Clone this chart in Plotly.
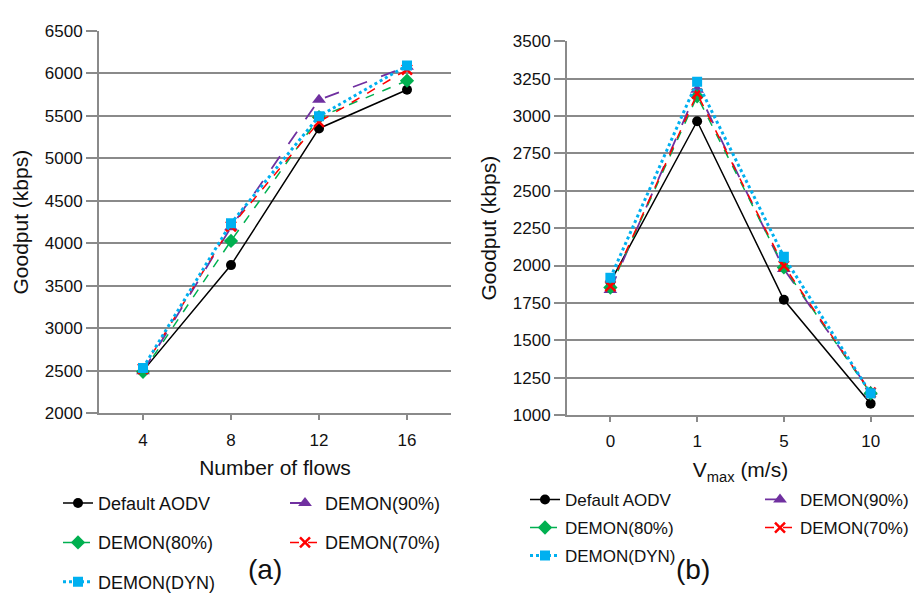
import plotly.graph_objects as go

# ---------------- data ----------------
flows = ["4", "8", "12", "16"]
vmax = ["0", "1", "5", "10"]

series_names = ["Default AODV", "DEMON(90%)", "DEMON(80%)", "DEMON(70%)", "DEMON(DYN)"]

flows_aodv = [2500, 3745, 5353, 5808]
flows_d90 = [2495, 4190, 5690, 6080]
flows_d80 = [2490, 4030, 5485, 5915]
flows_d70 = [2525, 4200, 5430, 6045]
flows_dyn = [2535, 4237, 5497, 6093]

vmax_aodv = [1890, 2965, 1771, 1076]
vmax_d90 = [1836, 3175, 1976, 1155]
vmax_d80 = [1853, 3132, 1987, 1145]
vmax_d70 = [1862, 3149, 1998, 1150]
vmax_dyn = [1918, 3229, 2058, 1145]

y1_ticks = [2000, 2500, 3000, 3500, 4000, 4500, 5000, 5500, 6000, 6500]
y2_ticks = [1000, 1250, 1500, 1750, 2000, 2250, 2500, 2750, 3000, 3250, 3500]

# ---------------- styles ----------------
W, H = 914, 613
FONT = "Liberation Sans, Arial, sans-serif"
GRID = "#8a8a8a"
TXT = "#111111"

styles = {
    "Default AODV": dict(color="#000000", dash="solid", width=1.5, symbol="circle", msize=10),
    "DEMON(90%)": dict(color="#7030A0", dash="longdash", width=1.8, symbol="triangle-up", msize=12),
    "DEMON(80%)": dict(color="#00B050", dash="dash", width=1.5, symbol="diamond", msize=11),
    "DEMON(70%)": dict(color="#FF0000", dash="dash", width=1.5, symbol="x-thin", msize=10),
    "DEMON(DYN)": dict(color="#00B0F0", dash="dot", width=3, symbol="square", msize=10),
}

left_data = dict(zip(series_names, [flows_aodv, flows_d90, flows_d80, flows_d70, flows_dyn]))
right_data = dict(zip(series_names, [vmax_aodv, vmax_d90, vmax_d80, vmax_d70, vmax_dyn]))

col1 = ["Default AODV", "DEMON(80%)", "DEMON(DYN)"]

fig = go.Figure()


def add(xcats, ydict, xa, ya, leg_a, leg_b, tag):
    for name in series_names:
        s = styles[name]
        marker = dict(symbol=s["symbol"], size=s["msize"], color=s["color"])
        if s["symbol"] == "x-thin":
            marker["line"] = dict(color=s["color"], width=2.5)
        fig.add_trace(go.Scatter(
            x=xcats, y=ydict[name], name=name, mode="lines+markers",
            line=dict(color=s["color"], dash=s["dash"], width=s["width"]),
            marker=marker, xaxis=xa, yaxis=ya,
            legend=leg_a if name in col1 else leg_b,
            legendgroup=tag + name,
        ))


add(flows, left_data, "x", "y", "legend", "legend2", "L")
add(vmax, right_data, "x2", "y2", "legend3", "legend4", "R")

axis_common = dict(
    showline=True, linecolor=GRID, linewidth=2, mirror=False,
    ticks="outside", tickcolor=GRID, tickwidth=1.5,
    tickfont=dict(size=17, color=TXT, family=FONT),
    zeroline=False,
)

xa_common = dict(axis_common, type="category", range=[-0.5, 3.5], showgrid=False, ticklen=5,
                 ticklabelstandoff=5,
                 title_font=dict(size=21, color=TXT, family=FONT), title_standoff=12)
ya_common = dict(axis_common, showgrid=True, gridcolor=GRID, gridwidth=1.5, ticklen=11,
                 title_font=dict(size=21, color=TXT, family=FONT), title_standoff=10)

legend_common = dict(
    orientation="v", bgcolor="rgba(0,0,0,0)", borderwidth=0,
    font=dict(size=18, color=TXT, family=FONT),
    xanchor="left", yanchor="top", itemclick=False, itemdoubleclick=False,
)

fig.update_layout(
    width=W, height=H,
    margin=dict(l=0, r=0, t=0, b=0),
    paper_bgcolor="white", plot_bgcolor="white",
    font=dict(family=FONT, color=TXT),
    xaxis=dict(xa_common, domain=[99 / W, 451 / W], anchor="y",
               title_text="Number of flows"),
    yaxis=dict(ya_common, domain=[1 - 417.3 / H, 1 - 22.7 / H], anchor="x",
               range=[2000, 6500], tickvals=y1_ticks, title_text="Goodput (kbps)"),
    xaxis2=dict(xa_common, domain=[567 / W, 1.0], anchor="y2",
                title_text="V<sub>max</sub> (m/s)"),
    yaxis2=dict(ya_common, domain=[1 - 419 / H, 1 - 33.3 / H], anchor="x2",
                range=[1000, 3500], tickvals=y2_ticks, title_text="Goodput (kbps)"),
    legend=dict(legend_common, x=58 / W, y=1 - 491 / H, tracegroupgap=13),
    legend2=dict(legend_common, x=285 / W, y=1 - 491 / H, tracegroupgap=13),
    legend3=dict(legend_common, x=525 / W, y=1 - 488 / H, tracegroupgap=3,
                 font=dict(size=17, color=TXT, family=FONT)),
    legend4=dict(legend_common, x=1.0, xanchor="right", y=1 - 488 / H, tracegroupgap=3,
                 font=dict(size=17, color=TXT, family=FONT)),
    showlegend=True,
    annotations=[
        dict(text="(a)", x=246 / W, y=1 - 597 / H, xref="paper", yref="paper",
             showarrow=False, font=dict(size=28, color=TXT, family=FONT)),
        dict(text="(b)", x=712 / W, y=1 - 597 / H, xref="paper", yref="paper",
             showarrow=False, font=dict(size=28, color=TXT, family=FONT)),
    ],
)

fig.write_html("out.html")
